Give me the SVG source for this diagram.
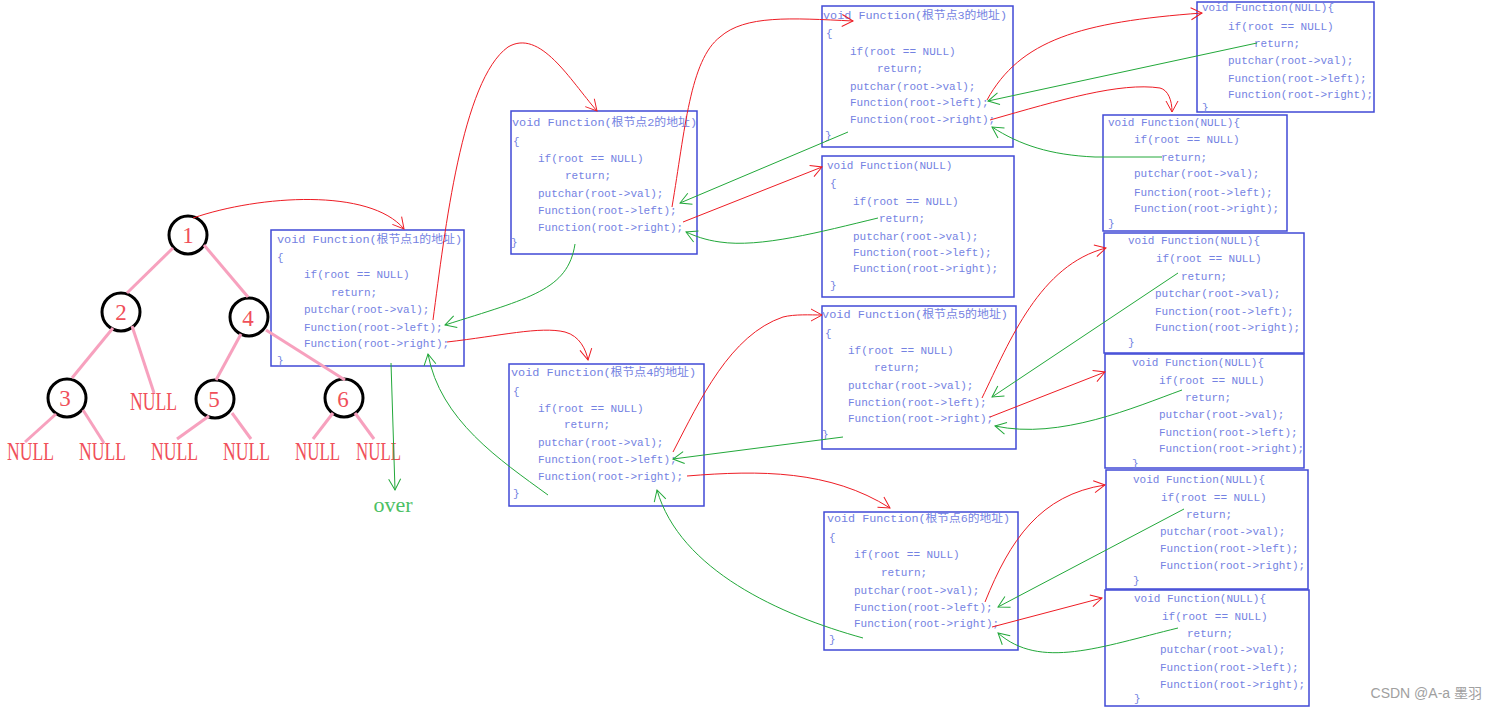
<svg xmlns="http://www.w3.org/2000/svg" width="1496" height="709" viewBox="0 0 1496 709">
<style>
.box{fill:none;stroke:#4049d6;stroke-width:1.5}
.code{font-family:"Liberation Mono","Noto Sans CJK SC",monospace;font-size:11px;fill:#7482e2}
.num{font-family:"Liberation Serif",serif;font-size:23px;fill:#f0505a;text-anchor:middle}
.nul{font-family:"Liberation Serif",serif;font-size:25px;fill:#f0505a}
.circ{fill:none;stroke:#000;stroke-width:3}
.edge{stroke:#f7a1be;stroke-width:3;fill:none}
.red{stroke:#ee1c24;stroke-width:1;fill:none;marker-end:url(#ar)}
.grn{stroke:#22a83a;stroke-width:1;fill:none;marker-end:url(#ag)}
</style>
<defs>
<marker id="ar" viewBox="-13 -8 15 16" refX="0" refY="0" markerWidth="15" markerHeight="16" markerUnits="userSpaceOnUse" orient="auto"><path d="M-11,-6 L0,0 L-11,6" fill="none" stroke="#ee1c24" stroke-width="1"/></marker>
<marker id="ag" viewBox="-13 -8 15 16" refX="0" refY="0" markerWidth="15" markerHeight="16" markerUnits="userSpaceOnUse" orient="auto"><path d="M-11,-6 L0,0 L-11,6" fill="none" stroke="#22a83a" stroke-width="1"/></marker>
</defs>
<rect width="1496" height="709" fill="#fff"/>

<!-- tree nodes -->
<g id="n1"><circle class="circ" cx="188" cy="235" r="19"/><text class="num" x="188" y="243">1</text></g>
<g id="n2"><circle class="circ" cx="121" cy="312" r="19"/><text class="num" x="121" y="320">2</text></g>
<g id="n4"><circle class="circ" cx="249" cy="317" r="19"/><text class="num" x="248" y="326">4</text></g>
<g id="n3"><circle class="circ" cx="67" cy="398" r="19"/><text class="num" x="65" y="406">3</text></g>
<g id="n5"><circle class="circ" cx="215" cy="399" r="19"/><text class="num" x="214" y="407">5</text></g>
<g id="n6"><circle class="circ" cx="344" cy="398" r="19"/><text class="num" x="343" y="407">6</text></g>
<g id="null2r"><text class="nul" x="130" y="410" textLength="47" lengthAdjust="spacingAndGlyphs">NULL</text></g>
<g id="null3l"><text class="nul" x="7" y="460" textLength="47" lengthAdjust="spacingAndGlyphs">NULL</text></g>
<g id="null3r"><text class="nul" x="79" y="460" textLength="47" lengthAdjust="spacingAndGlyphs">NULL</text></g>
<g id="null5l"><text class="nul" x="151" y="460" textLength="47" lengthAdjust="spacingAndGlyphs">NULL</text></g>
<g id="null5r"><text class="nul" x="223" y="460" textLength="47" lengthAdjust="spacingAndGlyphs">NULL</text></g>
<g id="null6l"><text class="nul" x="295" y="460" textLength="45" lengthAdjust="spacingAndGlyphs">NULL</text></g>
<g id="null6r"><text class="nul" x="356" y="460" textLength="45" lengthAdjust="spacingAndGlyphs">NULL</text></g>
<g id="over"><text x="393" y="512" font-family="Liberation Serif,serif" font-size="22" fill="#4cc064" text-anchor="middle">over</text></g>

<!-- box 1 -->
<g id="box1">
<rect class="box" x="271" y="230" width="193" height="136"/>
<text class="code" x="277" y="243" textLength="185" lengthAdjust="spacingAndGlyphs">void Function(根节点1的地址)</text>
<text class="code" x="277" y="261">{</text>
<text class="code" x="304" y="278">if(root == NULL)</text>
<text class="code" x="331" y="296">return;</text>
<text class="code" x="304" y="313">putchar(root-&gt;val);</text>
<text class="code" x="304" y="331">Function(root-&gt;left);</text>
<text class="code" x="304" y="347">Function(root-&gt;right);</text>
<text class="code" x="277" y="364">}</text>
</g>
<!-- box 2 -->
<g id="box2">
<rect class="box" x="511" y="111" width="186" height="143"/>
<text class="code" x="512" y="126" textLength="185" lengthAdjust="spacingAndGlyphs">void Function(根节点2的地址)</text>
<text class="code" x="513" y="145">{</text>
<text class="code" x="538" y="162">if(root == NULL)</text>
<text class="code" x="565" y="179">return;</text>
<text class="code" x="538" y="197">putchar(root-&gt;val);</text>
<text class="code" x="538" y="214">Function(root-&gt;left);</text>
<text class="code" x="538" y="231">Function(root-&gt;right);</text>
<text class="code" x="511" y="246">}</text>
</g>
<!-- box 3 -->
<g id="box3">
<rect class="box" x="822" y="6" width="191" height="141"/>
<text class="code" x="823" y="19" textLength="184" lengthAdjust="spacingAndGlyphs">void Function(根节点3的地址)</text>
<text class="code" x="826" y="37">{</text>
<text class="code" x="850" y="55">if(root == NULL)</text>
<text class="code" x="877" y="72">return;</text>
<text class="code" x="850" y="90">putchar(root-&gt;val);</text>
<text class="code" x="850" y="106">Function(root-&gt;left);</text>
<text class="code" x="850" y="123">Function(root-&gt;right);</text>
<text class="code" x="825" y="139">}</text>
</g>
<!-- box 4 -->
<g id="box4">
<rect class="box" x="509" y="364" width="195" height="142"/>
<text class="code" x="511" y="376" textLength="185" lengthAdjust="spacingAndGlyphs">void Function(根节点4的地址)</text>
<text class="code" x="513" y="395">{</text>
<text class="code" x="538" y="412">if(root == NULL)</text>
<text class="code" x="564" y="428">return;</text>
<text class="code" x="538" y="446">putchar(root-&gt;val);</text>
<text class="code" x="538" y="463">Function(root-&gt;left);</text>
<text class="code" x="538" y="480">Function(root-&gt;right);</text>
<text class="code" x="513" y="497">}</text>
</g>
<!-- box 5 -->
<g id="box5">
<rect class="box" x="822" y="306" width="194" height="143"/>
<text class="code" x="822" y="318" textLength="186" lengthAdjust="spacingAndGlyphs">void Function(根节点5的地址)</text>
<text class="code" x="825" y="337">{</text>
<text class="code" x="848" y="354">if(root == NULL)</text>
<text class="code" x="874" y="371">return;</text>
<text class="code" x="848" y="389">putchar(root-&gt;val);</text>
<text class="code" x="848" y="406">Function(root-&gt;left);</text>
<text class="code" x="848" y="422">Function(root-&gt;right);</text>
<text class="code" x="822" y="438">}</text>
</g>
<!-- box 6 -->
<g id="box6">
<rect class="box" x="824" y="512" width="194" height="138"/>
<text class="code" x="827" y="522" textLength="183" lengthAdjust="spacingAndGlyphs">void Function(根节点6的地址)</text>
<text class="code" x="829" y="541">{</text>
<text class="code" x="854" y="558">if(root == NULL)</text>
<text class="code" x="881" y="576">return;</text>
<text class="code" x="854" y="594">putchar(root-&gt;val);</text>
<text class="code" x="854" y="611">Function(root-&gt;left);</text>
<text class="code" x="854" y="627">Function(root-&gt;right);</text>
<text class="code" x="829" y="643">}</text>
</g>
<!-- NULL boxes -->
<g id="null1">
<rect class="box" x="1197" y="2" width="177" height="110"/>
<text class="code" x="1202" y="11">void Function(NULL){</text>
<text class="code" x="1228" y="30">if(root == NULL)</text>
<text class="code" x="1254" y="47">return;</text>
<text class="code" x="1228" y="64">putchar(root-&gt;val);</text>
<text class="code" x="1228" y="82">Function(root-&gt;left);</text>
<text class="code" x="1228" y="98">Function(root-&gt;right);</text>
<text class="code" x="1202" y="111">}</text>
</g>
<g id="null2">
<rect class="box" x="1103" y="115" width="184" height="116"/>
<text class="code" x="1108" y="126">void Function(NULL){</text>
<text class="code" x="1134" y="143">if(root == NULL)</text>
<text class="code" x="1161" y="161">return;</text>
<text class="code" x="1134" y="177">putchar(root-&gt;val);</text>
<text class="code" x="1134" y="196">Function(root-&gt;left);</text>
<text class="code" x="1134" y="212">Function(root-&gt;right);</text>
<text class="code" x="1108" y="227">}</text>
</g>
<g id="null3">
<rect class="box" x="822" y="156" width="192" height="141"/>
<text class="code" x="827" y="169">void Function(NULL)</text>
<text class="code" x="830" y="187">{</text>
<text class="code" x="853" y="205">if(root == NULL)</text>
<text class="code" x="879" y="222">return;</text>
<text class="code" x="853" y="240">putchar(root-&gt;val);</text>
<text class="code" x="853" y="256">Function(root-&gt;left);</text>
<text class="code" x="853" y="272">Function(root-&gt;right);</text>
<text class="code" x="830" y="289">}</text>
</g>
<g id="null4">
<rect class="box" x="1104" y="233" width="200" height="120"/>
<text class="code" x="1128" y="244">void Function(NULL){</text>
<text class="code" x="1156" y="262">if(root == NULL)</text>
<text class="code" x="1181" y="280">return;</text>
<text class="code" x="1155" y="297">putchar(root-&gt;val);</text>
<text class="code" x="1155" y="315">Function(root-&gt;left);</text>
<text class="code" x="1155" y="331">Function(root-&gt;right);</text>
<text class="code" x="1128" y="346">}</text>
</g>
<g id="null5">
<rect class="box" x="1105" y="354" width="199" height="114"/>
<text class="code" x="1132" y="366">void Function(NULL){</text>
<text class="code" x="1159" y="384">if(root == NULL)</text>
<text class="code" x="1185" y="401">return;</text>
<text class="code" x="1159" y="418">putchar(root-&gt;val);</text>
<text class="code" x="1159" y="436">Function(root-&gt;left);</text>
<text class="code" x="1159" y="452">Function(root-&gt;right);</text>
<text class="code" x="1132" y="467">}</text>
</g>
<g id="null6">
<rect class="box" x="1106" y="470" width="202" height="119"/>
<text class="code" x="1133" y="483">void Function(NULL){</text>
<text class="code" x="1161" y="501">if(root == NULL)</text>
<text class="code" x="1186" y="518">return;</text>
<text class="code" x="1160" y="535">putchar(root-&gt;val);</text>
<text class="code" x="1160" y="552">Function(root-&gt;left);</text>
<text class="code" x="1160" y="569">Function(root-&gt;right);</text>
<text class="code" x="1133" y="584">}</text>
</g>
<g id="null7">
<rect class="box" x="1105" y="590" width="204" height="116"/>
<text class="code" x="1134" y="602">void Function(NULL){</text>
<text class="code" x="1162" y="620">if(root == NULL)</text>
<text class="code" x="1187" y="637">return;</text>
<text class="code" x="1160" y="653">putchar(root-&gt;val);</text>
<text class="code" x="1160" y="671">Function(root-&gt;left);</text>
<text class="code" x="1160" y="688">Function(root-&gt;right);</text>
<text class="code" x="1134" y="702">}</text>
</g>

<!-- connectors -->
<g id="connectors">
<path class="edge" d="M173,248 L127,293"/>
<path class="edge" d="M204,245 L248,297"/>
<path class="edge" d="M113,328 L72,378"/>
<path class="edge" d="M132,326 L154,393"/>
<path class="edge" d="M241,334 L216,380"/>
<path class="edge" d="M266,330 L345,380"/>
<path class="edge" d="M56,414 L25,442"/>
<path class="edge" d="M83,410 L104,443"/>
<path class="edge" d="M209,416 L177,439"/>
<path class="edge" d="M232,413 L251,439"/>
<path class="edge" d="M333,413 L313,439"/>
<path class="edge" d="M355,413 L374,439"/>

<path class="red" d="M193,218 C260,195 370,188 404,229"/>
<path class="red" d="M433,320 C445,230 462,80 508,47 C540,28 570,80 597,111"/>
<path class="red" d="M447,342 C500,336 540,326 565,332 C580,336 586,350 588,360"/>
<path class="red" d="M672,207 C685,130 690,60 720,37 C745,15 790,18 853,21"/>
<path class="red" d="M683,222 L822,167"/>
<path class="red" d="M987,100 C1020,40 1080,22 1202,13"/>
<path class="red" d="M990,120 C1060,100 1120,82 1160,88 C1168,90 1172,100 1172,112"/>
<path class="red" d="M673,452 C700,400 730,335 783,317 C795,314 810,315 822,315"/>
<path class="red" d="M687,476 C760,470 830,470 890,508"/>
<path class="red" d="M982,398 C1010,340 1040,265 1106,248"/>
<path class="red" d="M990,417 L1105,372"/>
<path class="red" d="M985,602 C1010,540 1040,495 1105,485"/>
<path class="red" d="M992,627 L1102,598"/>

<path class="grn" d="M575,244 C568,290 530,298 445,325"/>
<path class="grn" d="M848,132 L680,203"/>
<path class="grn" d="M878,218 C820,232 760,248 720,242 C705,240 695,236 686,232"/>
<path class="grn" d="M1257,43 L988,101"/>
<path class="grn" d="M1162,157 L1095,157 C1050,155 1020,145 992,127"/>
<path class="grn" d="M391,363 L395,490"/>
<path class="grn" d="M548,495 C500,460 440,420 428,354"/>
<path class="grn" d="M843,437 L673,459"/>
<path class="grn" d="M863,638 C780,615 680,570 657,490"/>
<path class="grn" d="M1178,273 L992,397"/>
<path class="grn" d="M1182,390 C1135,407 1060,440 995,426"/>
<path class="grn" d="M1184,509 L998,607"/>
<path class="grn" d="M1178,628 C1100,647 1040,670 998,633"/>
</g>

<text x="1482" y="698" font-family="Liberation Sans,Noto Sans CJK SC,sans-serif" font-size="14" fill="#a0a0a0" text-anchor="end">CSDN @A-a 墨羽</text>
</svg>
